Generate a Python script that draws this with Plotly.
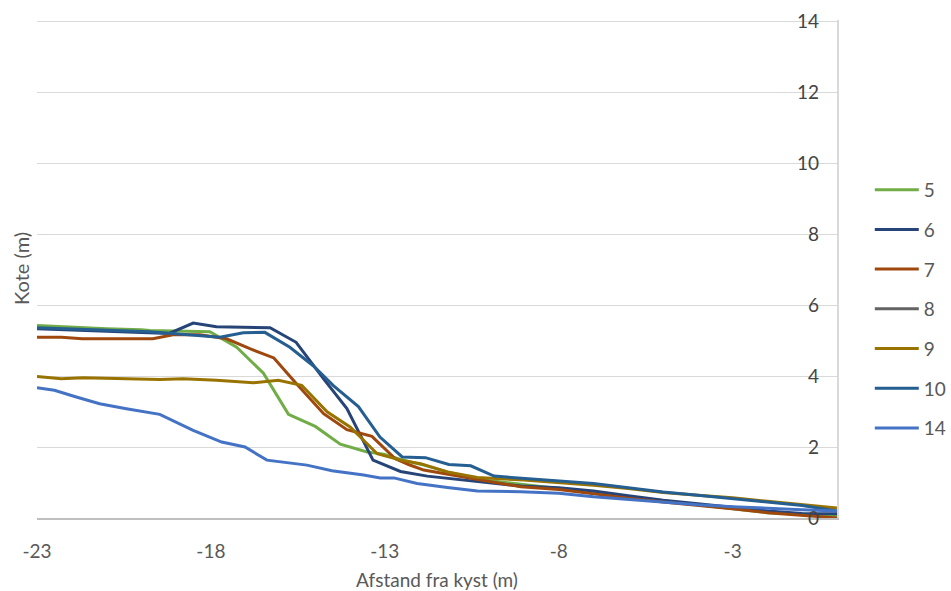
import plotly.graph_objects as go

# ---- data ----
names = ["5", "6", "7", "8", "9", "10", "14"]
colors = ["#70AD47", "#264478", "#9E480E", "#636363", "#997300", "#255E91", "#4472C4"]

right_x = [-8, -7, -6, -5, -4, -3, -2, -1, 0]

x5 = [-23, -22, -21, -20, -19.76, -18.03, -17.26, -16.49, -15.77, -15.0, -14.28, -13.51, -13.03,
      -12.55, -11.88, -11.2, -10.34, -9.09] + right_x
y5 = [5.42, 5.37, 5.33, 5.30, 5.28, 5.25, 4.81, 4.08, 2.92, 2.58, 2.08, 1.86, 1.80,
      1.65, 1.49, 1.30, 1.09, 0.95] + [0.84, 0.72, 0.60, 0.48, 0.38, 0.26, 0.15, 0.10, 0.06]

x6 = [-23, -22, -21, -20, -19.2, -18.51, -17.84, -16.3, -15.55, -14.76, -14.09, -13.34, -12.55,
      -11.78, -10.24, -9.09] + right_x
y6 = [5.33, 5.30, 5.26, 5.22, 5.20, 5.49, 5.39, 5.36, 4.95, 3.92, 3.08, 1.63, 1.31,
      1.18, 1.02, 0.90] + [0.85, 0.76, 0.63, 0.50, 0.40, 0.30, 0.20, 0.13, 0.12]

x7 = [-23, -22.3, -21.7, -20, -19.67, -19.09, -18.32, -17.55, -16.88, -16.19, -15.54, -14.76,
      -14.09, -13.37, -12.70, -12.3, -11.88, -10.24, -9.09] + right_x
y7 = [5.09, 5.09, 5.05, 5.05, 5.05, 5.16, 5.16, 5.05, 4.77, 4.51, 3.78, 2.94,
      2.49, 2.30, 1.67, 1.50, 1.35, 1.07, 0.88] + [0.80, 0.67, 0.56, 0.45, 0.36, 0.26, 0.15, 0.08, 0.0]

x8 = []
y8 = []

x9 = [-23, -22.3, -21.68, -20.5, -19.47, -18.8, -17.84, -16.78, -16.06, -15.39, -14.66, -13.99,
      -13.22, -12.55, -11.97, -11.2, -10.34, -9.0] + right_x
y9 = [3.99, 3.92, 3.95, 3.93, 3.90, 3.92, 3.88, 3.81, 3.88, 3.74, 2.99, 2.56,
      1.81, 1.63, 1.53, 1.30, 1.14, 1.07] + [1.00, 0.92, 0.83, 0.72, 0.64, 0.57, 0.47, 0.38, 0.28]

x10 = [-23, -22, -21, -20, -19.76, -17.74, -17.07, -16.45, -15.73, -15.06, -14.48, -13.76,
       -13.14, -12.5, -11.83, -11.16, -10.53, -9.86, -9.0] + right_x
y10 = [5.36, 5.33, 5.29, 5.26, 5.25, 5.09, 5.22, 5.23, 4.81, 4.29, 3.73, 3.14,
       2.28, 1.72, 1.70, 1.51, 1.47, 1.18, 1.12] + [1.05, 0.97, 0.85, 0.73, 0.64, 0.55, 0.45, 0.35, 0.20]

x14 = [-23, -22.5, -21.87, -21.2, -20.43, -19.47, -18.51, -17.69, -17.02, -16.39, -15.24, -14.52,
       -13.61, -13.13, -12.74, -12.07, -11.2, -10.34, -9.09] + right_x
y14 = [3.67, 3.60, 3.41, 3.22, 3.08, 2.92, 2.47, 2.14, 2.00, 1.63, 1.49, 1.33,
       1.21, 1.13, 1.13, 0.97, 0.86, 0.76, 0.74] + [0.70, 0.60, 0.52, 0.44, 0.37, 0.32, 0.27, 0.23, 0.20]

xs = [x5, x6, x7, x8, x9, x10, x14]
ys = [y5, y6, y7, y8, y9, y10, y14]

x_ticks = [-23, -18, -13, -8, -3]
y_ticks = [0, 2, 4, 6, 8, 10, 12, 14]

FONT = "Lato"
TXT = "#595959"

fig = go.Figure()
for n, c, xv, yv in zip(names, colors, xs, ys):
    fig.add_trace(go.Scatter(
        x=xv if xv else [None], y=yv if yv else [None], mode="lines", name=n,
        legendgroup=n, line=dict(color=c, width=3),
    ))

L, R, T, B = 37, 114, 20, 73
fig.update_layout(
    width=951, height=591,
    margin=dict(l=L, r=R, t=T, b=B, autoexpand=False),
    paper_bgcolor="white", plot_bgcolor="white",
    font=dict(family=FONT, size=19, color=TXT),
    showlegend=True,
    legend=dict(x=1.041, xanchor="left", y=0.42, yanchor="middle",
                tracegroupgap=12, font=dict(size=19, color=TXT),
                itemwidth=44, bgcolor="rgba(0,0,0,0)"),
    xaxis=dict(range=[-23, 0], tickvals=x_ticks, ticktext=[str(v) for v in x_ticks],
               showgrid=False, zeroline=False, showline=True, linecolor="#bfbfbf", linewidth=1.5,
               ticks="", ticklabelstandoff=15,
               title=dict(text="Afstand fra kyst (m)", standoff=20,
                          font=dict(size=19, color=TXT))),
    yaxis=dict(range=[0, 14.03], tickvals=y_ticks, ticktext=[str(v) for v in y_ticks],
               side="right", ticklabelposition="inside", ticklabelstandoff=19,
               ticklabeloverflow="allow",
               showgrid=True, gridcolor="#d9d9d9", gridwidth=1.2,
               zeroline=False, showline=True, linecolor="#d9d9d9", linewidth=1.5,
               ticks=""),
    annotations=[dict(text="Kote (m)", x=(21 - L) / (951 - L - R), xref="paper", y=0.5, yref="paper",
                      textangle=-90, showarrow=False, font=dict(size=20, color=TXT),
                      xanchor="center", yanchor="middle")],
)

fig.write_html("out.html")
